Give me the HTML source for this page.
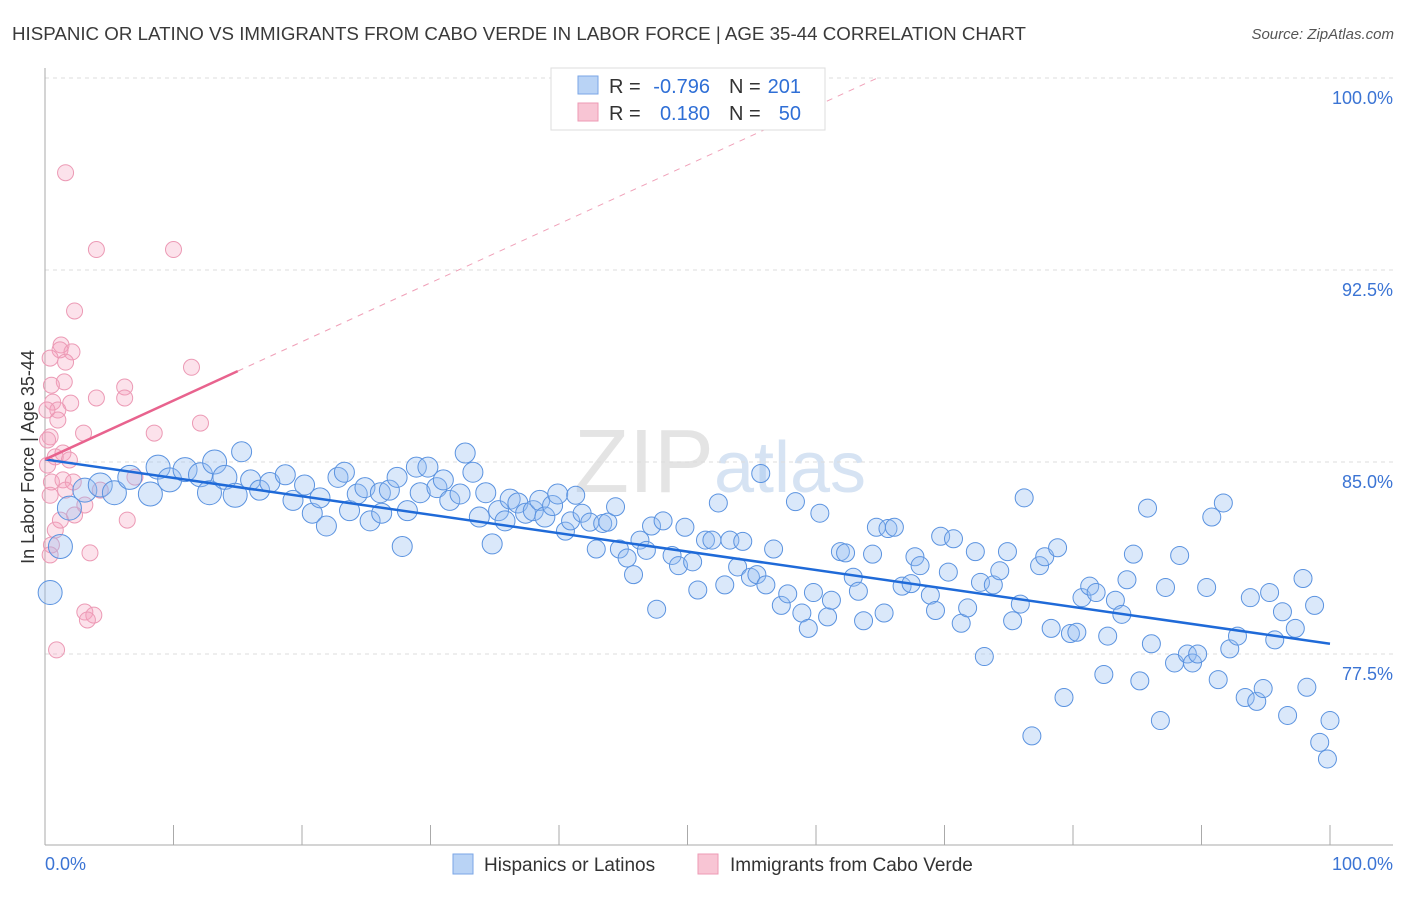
<!DOCTYPE html>
<html><head><meta charset="utf-8"><style>
body{margin:0;background:#fff;font-family:"Liberation Sans",sans-serif}
svg text{font-family:"Liberation Sans",sans-serif}
</style></head><body>
<svg id="c" width="1406" height="892">
<text x="12" y="40" font-size="18" fill="#3a3a3a" textLength="1014" lengthAdjust="spacingAndGlyphs">HISPANIC OR LATINO VS IMMIGRANTS FROM CABO VERDE IN LABOR FORCE | AGE 35-44 CORRELATION CHART</text>
<text x="1394" y="39" font-size="15" fill="#555" font-style="italic" text-anchor="end">Source: ZipAtlas.com</text>
<text x="720" y="492" font-size="90" fill="#e4e4e4" text-anchor="middle" font-family="Liberation Serif">ZIP<tspan fill="#d6e3f3" font-family="Liberation Sans" font-size="72">atlas</tspan></text>
<g id="grid"></g>
<g id="axes"></g>
<g id="pink"></g>
<g id="blue"></g>
<g id="trend"></g>
<text transform="translate(34,457) rotate(-90)" font-size="18" fill="#333" text-anchor="middle">In Labor Force | Age 35-44</text>
<g>
<rect x="551" y="68" width="274" height="62" fill="#fff" stroke="#ddd"/>
<rect x="578" y="76" width="20" height="18" fill="#b9d3f5" stroke="#7aa6e6"/>
<rect x="578" y="103" width="20" height="18" fill="#f8c5d4" stroke="#ee9ab4"/>
<g font-size="20" fill="#333">
<text x="609" y="93">R =</text><text x="710" y="93" fill="#2f6fd6" text-anchor="end">-0.796</text>
<text x="729" y="93">N =</text><text x="801" y="93" fill="#2f6fd6" text-anchor="end">201</text>
</g>
<g font-size="20" fill="#333">
<text x="609" y="120">R =</text><text x="710" y="120" fill="#2f6fd6" text-anchor="end">0.180</text>
<text x="729" y="120">N =</text><text x="801" y="120" fill="#2f6fd6" text-anchor="end">50</text>
</g>
</g>
<g>
<rect x="453" y="854" width="20" height="20" fill="#b9d3f5" stroke="#7aa6e6"/>
<text x="484" y="871" font-size="19" fill="#333">Hispanics or Latinos</text>
<rect x="698" y="854" width="20" height="20" fill="#f8c5d4" stroke="#ee9ab4"/>
<text x="730" y="871" font-size="19" fill="#333">Immigrants from Cabo Verde</text>
</g>
</svg>
<script>
const yTicks=[100,92.5,85,77.5];
const yTickLabels=["100.0%","92.5%","85.0%","77.5%"];
const xTickValues=[0,10,20,30,40,50,60,70,80,90,100];
const blueX=[0.4,1.2,1.9,3.1,4.3,5.4,6.6,8.2,8.8,9.7,10.9,12.1,12.8,13.2,14.0,14.8,15.3,16,16.7,17.5,18.7,19.3,20.2,20.8,21.4,21.9,22.8,23.3,23.7,24.3,24.9,25.3,26.1,26.2,26.8,27.4,27.8,28.2,28.9,29.2,29.8,30.5,31.0,31.5,32.3,32.7,33.3,33.8,34.3,34.8,35.3,35.8,36.2,36.8,37.4,38.0,38.5,38.9,39.5,39.9,40.5,40.9,41.3,41.8,42.4,42.9,43.4,43.8,44.4,44.7,45.3,45.8,46.3,46.8,47.2,47.6,48.1,48.8,49.3,49.8,50.4,50.8,51.4,51.9,52.4,52.9,53.3,53.9,54.3,54.9,55.4,55.7,56.1,56.7,57.3,57.8,58.4,58.9,59.4,59.8,60.3,60.9,61.2,61.9,62.3,62.9,63.3,63.7,64.4,64.7,65.3,65.6,66.1,66.7,67.4,67.7,68.1,68.9,69.3,69.7,70.3,70.7,71.3,71.8,72.4,72.8,73.1,73.8,74.3,74.9,75.3,75.9,76.2,76.8,77.4,77.8,78.3,78.8,79.3,79.8,80.3,80.7,81.3,81.8,82.4,82.7,83.3,83.8,84.2,84.7,85.2,85.8,86.1,86.8,87.2,87.9,88.3,88.9,89.3,89.7,90.4,90.8,91.3,91.7,92.2,92.8,93.4,93.8,94.3,94.8,95.3,95.7,96.3,96.7,97.3,97.9,98.2,98.8,99.2,99.8,100];
const blueY=[79.9,81.7,83.2,83.9,84.1,83.8,84.4,83.75,84.8,84.3,84.7,84.5,83.8,85.0,84.4,83.7,85.4,84.3,83.9,84.2,84.5,83.5,84.1,83.0,83.6,82.5,84.4,84.6,83.1,83.75,84.0,82.7,83.8,83.0,83.9,84.4,81.7,83.1,84.8,83.8,84.8,84.0,84.3,83.5,83.75,85.35,84.6,82.85,83.8,81.8,83.1,82.7,83.55,83.4,83.0,83.1,83.5,82.85,83.3,83.75,82.3,82.7,83.7,83.0,82.65,81.6,82.6,82.65,83.25,81.6,81.25,80.6,81.95,81.55,82.5,79.25,82.7,81.35,80.95,82.45,81.1,80.0,81.95,81.95,83.4,80.2,81.95,80.9,81.9,80.5,80.6,84.55,80.2,81.6,79.4,79.85,83.45,79.1,78.5,79.9,83.0,78.95,79.6,81.5,81.45,80.5,79.95,78.8,81.4,82.45,79.1,82.4,82.45,80.15,80.25,81.3,80.95,79.8,79.2,82.1,80.7,82.0,78.7,79.3,81.5,80.3,77.4,80.2,80.75,81.5,78.8,79.45,83.6,74.3,80.95,81.3,78.5,81.65,75.8,78.3,78.35,79.7,80.15,79.9,76.7,78.2,79.6,79.05,80.4,81.4,76.45,83.2,77.9,74.9,80.1,77.15,81.35,77.5,77.15,77.5,80.1,82.85,76.5,83.4,77.7,78.2,75.8,79.7,75.65,76.15,79.9,78.05,79.15,75.1,78.5,80.45,76.2,79.4,74.05,73.4,74.9];
const pinkX=[1.6,4.0,10.0,2.3,1.25,1.17,2.1,1.6,0.4,1.5,11.4,6.2,6.2,4.0,2.0,0.6,1.0,1.0,8.5,3.0,0.4,1.4,0.8,1.9,0.2,0.5,1.4,2.2,1.6,0.4,3.1,2.3,6.4,0.8,0.5,3.5,0.4,3.1,3.8,3.3,0.9,12.1,7.0,4.3,1.2,0.2,0.15,0.5];
const pinkY=[96.3,93.3,93.3,90.9,89.57,89.38,89.3,88.9,89.06,88.13,88.7,87.93,87.5,87.5,87.3,87.34,87.03,86.64,86.13,86.13,85.98,85.35,85.2,85.08,84.88,84.22,84.3,84.22,83.9,83.7,83.32,82.93,82.73,82.34,81.76,81.45,81.37,79.14,79.02,78.83,77.66,86.52,84.41,83.9,82.73,85.86,87.03,88.0];
const blueTrend=[85.1,77.9];
const pinkTrend=[85.1,88.55];
const pinkTrendEndX=15;

const NS="http://www.w3.org/2000/svg";
const X=v=>45+v*12.85, Y=v=>78+(100-v)*25.6;
function mk(tag,attrs,parent){const e=document.createElementNS(NS,tag);for(const k in attrs)e.setAttribute(k,attrs[k]);document.getElementById(parent).appendChild(e);return e;}

yTicks.forEach((t,i)=>{
  const g=mk('line',{x1:45,x2:1393,y1:Y(t),y2:Y(t),stroke:'#ddd','stroke-dasharray':'4,4'},'grid');
  
  
  const l=mk('text',{x:1393,y:Y(t)+26,'font-size':18,fill:'#3b74d4','text-anchor':'end'},'grid');
  l.textContent=yTickLabels[i];
  
  
});
const ya=mk('line',{x1:45,x2:45,y1:68,y2:845,stroke:'#aaa'},'axes');


const xa=mk('line',{x1:45,x2:1393,y1:845,y2:845,stroke:'#aaa'},'axes');


xTickValues.forEach(t=>{
  const tk=mk('line',{x1:X(t),x2:X(t),y1:825,y2:845,stroke:'#aaa'},'axes');
  
  
});
[[0,'0.0%','start',45],[100,'100.0%','end',1393]].forEach(d=>{
  const t=mk('text',{x:d[3],y:870,'font-size':18,fill:'#3b74d4','text-anchor':d[2]},'axes');
  t.textContent=d[1];
  
  
});
pinkX.forEach((x,i)=>{
  const c=mk('circle',{cx:X(x),cy:Y(pinkY[i]),r:8,fill:'rgba(244,160,190,0.3)',stroke:'#ec9ab5','stroke-width':1},'pink');
  
  
});
blueX.forEach((x,i)=>{
  const r=x<15?12:(x<40?10:9);
  const c=mk('circle',{cx:X(x),cy:Y(blueY[i]),r:r,fill:'rgba(150,190,240,0.35)',stroke:'#5b93e0','stroke-width':1},'blue');
  
  
});
const bt=mk('line',{x1:X(0),y1:Y(blueTrend[0]),x2:X(100),y2:Y(blueTrend[1]),stroke:'#1f6ad8','stroke-width':2.5},'trend');


const slope=(pinkTrend[1]-pinkTrend[0])/pinkTrendEndX;
const xEnd=(100-pinkTrend[0])/slope;
const pd=mk('line',{x1:X(pinkTrendEndX),y1:Y(pinkTrend[1]),x2:X(xEnd),y2:Y(100),stroke:'#f0a0b8','stroke-width':1,'stroke-dasharray':'6,6'},'trend');


const pt=mk('line',{x1:X(0),y1:Y(pinkTrend[0]),x2:X(pinkTrendEndX),y2:Y(pinkTrend[1]),stroke:'#e8638e','stroke-width':2.5},'trend');


</script>
</body></html>
